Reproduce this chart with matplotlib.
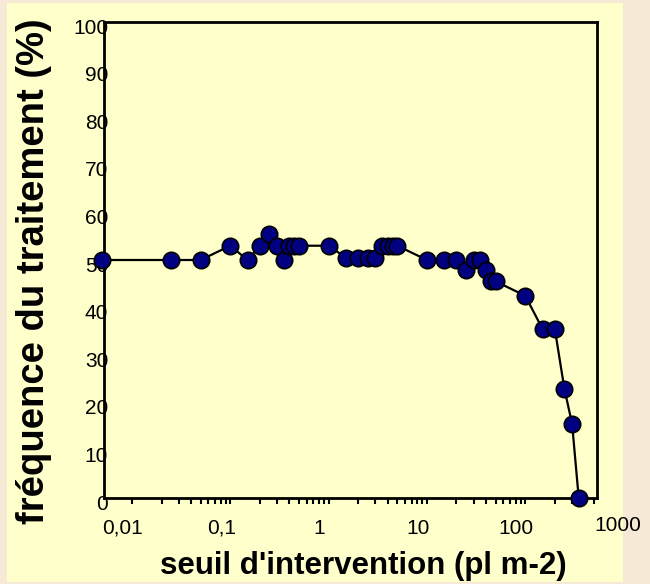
import matplotlib
matplotlib.use('Agg')
from matplotlib import pyplot as plt
from matplotlib.patches import Rectangle
from matplotlib.transforms import ScaledTranslation, blended_transform_factory
from matplotlib.ticker import FixedLocator, NullFormatter
import numpy as np

plt.rcParams['font.family'] = ['Liberation Sans', 'DejaVu Sans']

# seuil d'intervention (pl m-2) vs fréquence du traitement (%)
seuil = [0.005, 0.025, 0.05, 0.1, 0.15, 0.2, 0.25, 0.3, 0.35, 0.4, 0.45, 0.5,
         1, 1.5, 2, 2.5, 3, 3.5, 4, 4.5, 5,
         10, 15, 20, 25, 30, 35, 40, 45, 50,
         100, 150, 200, 250, 300, 350]
frequence = [50, 50, 50, 53, 50, 53, 55.5, 53, 50, 53, 53, 53,
             53, 50.5, 50.5, 50.5, 50.5, 53, 53, 53, 53,
             50, 50, 50, 48, 50, 50, 48, 45.5, 45.5,
             42.5, 35.5, 35.5, 23, 15.5, 0]

x_ticks = [0.01, 0.1, 1, 10, 100]
x_ticklabels = ['0,01', '0,1', '1', '10', '100']
y_ticks = [0, 10, 20, 30, 40, 50, 60, 70, 80, 90, 100]

W, H = 650, 584
fig = plt.figure(figsize=(W / 100, H / 100), dpi=100)
fig.patch.set_facecolor('#f6ead6')
fig.patches.append(Rectangle((7 / W, 2 / H), 616 / W, 579 / H,
                             transform=fig.transFigure, facecolor='#ffffcc',
                             edgecolor='none', zorder=-5))

ax = fig.add_axes([104 / W, (H - 498) / H, (597 - 104) / W, (498 - 22) / H])
ax.set_facecolor('#ffffcc')

ax.plot(seuil, frequence, color='black', lw=1.6, zorder=2, clip_on=False)
ax.plot(seuil, frequence, ls='none', marker='o', ms=11.8, mfc='#000080',
        mec='black', mew=1.2, zorder=3, clip_on=False)

ax.set_xscale('log')
ax.set_xlim(0.0052, 537)
ax.set_ylim(0, 100)

for s in ax.spines.values():
    s.set_linewidth(2)
    s.set_color('black')

ax.xaxis.set_major_locator(FixedLocator(x_ticks))
ax.set_xticklabels(x_ticklabels)
minors = [m * 10.0 ** e for e in range(-2, 3) for m in range(2, 10)]
ax.xaxis.set_minor_locator(FixedLocator(minors))
ax.xaxis.set_minor_formatter(NullFormatter())
ax.tick_params(axis='x', which='both', direction='out', length=4, width=1.5,
               labelsize=15, pad=11, colors='black')

ax.set_yticks(y_ticks)
ax.tick_params(axis='y', length=0, labelsize=15, pad=-3)

dx = ScaledTranslation(-9 / 100, 0, fig.dpi_scale_trans)
for lab in ax.get_xticklabels():
    lab.set_transform(lab.get_transform() + dx)
dy = ScaledTranslation(0, -4 / 100, fig.dpi_scale_trans)
for lab in ax.get_yticklabels():
    lab.set_transform(lab.get_transform() + dy)

# the 1000 label sits past the end of the axis
trans = blended_transform_factory(ax.transData, ax.transAxes)
ax.text(1000, 0, '1000', fontsize=15, ha='center', va='top', clip_on=False,
        transform=trans + ScaledTranslation(-6 / 100, -18 / 100, fig.dpi_scale_trans))

fig.text(363 / W, (H - 566) / H, "seuil d'intervention (pl m-2)", fontsize=22.5,
         fontweight='bold', ha='center', va='center')
fig.text(34 / W, (H - 271) / H, 'fréquence du traitement (%)', fontsize=27.5,
         fontweight='bold', ha='center', va='center', rotation=90)

fig.savefig('out.png', dpi=100, facecolor=fig.get_facecolor())
